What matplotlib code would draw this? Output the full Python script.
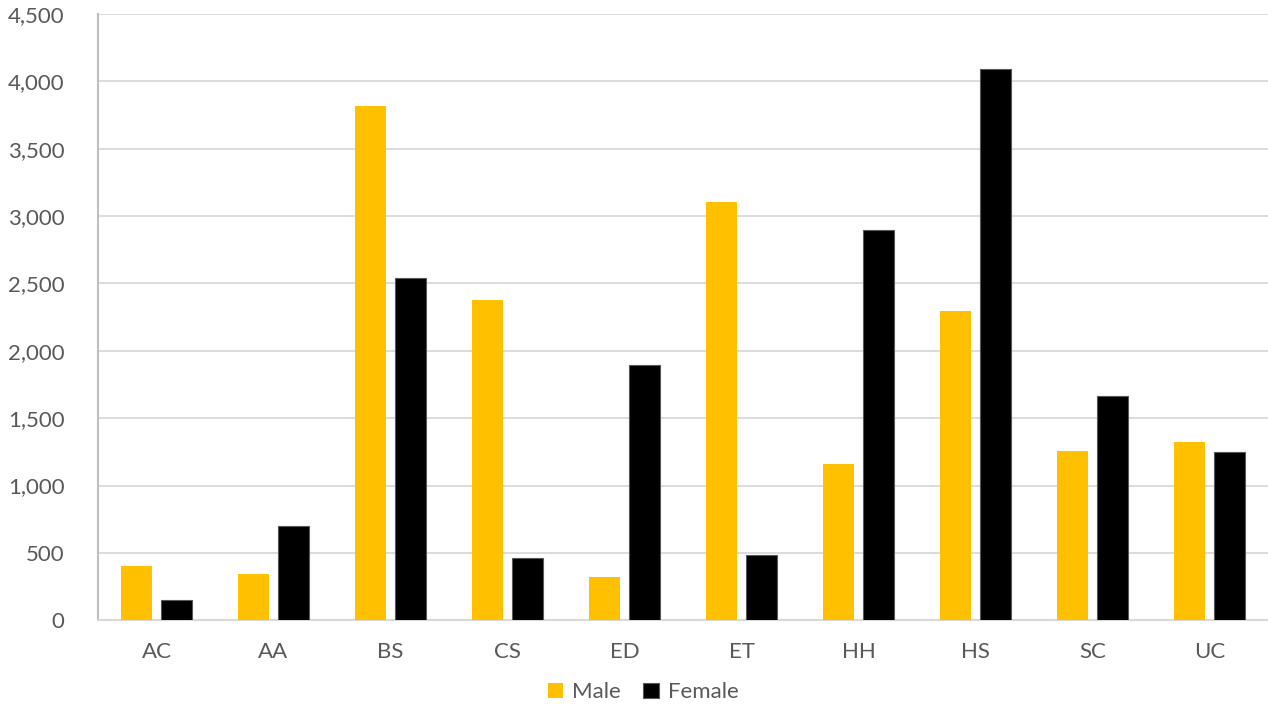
import numpy as np
import matplotlib
matplotlib.use("Agg")
from matplotlib import pyplot as plt
from matplotlib.ticker import FuncFormatter

categories = ["AC", "AA", "BS", "CS", "ED", "ET", "HH", "HS", "SC", "UC"]
male = [400, 342, 3817, 2376, 320, 3104, 1158, 2295, 1255, 1322]
female = [150, 700, 2540, 460, 1893, 483, 2896, 4091, 1663, 1247]

plt.rcParams['font.family'] = ['Lato', 'DejaVu Sans']
text_color = "#595959"

fig = plt.figure(figsize=(12.68, 7.04), dpi=100)
ax = fig.add_axes([0.0773, 0.119, 0.9227, 0.861])

x = np.arange(len(categories))
w = 0.265
off = 0.167
ax.bar(x - off, male, w, color="#FFC000", label="Male", zorder=3)
ax.bar(x + off, female, w, color="#000000", edgecolor="#595959", linewidth=0.8,
       label="Female", zorder=3)

ax.set_xlim(-0.5, len(categories) - 0.5)
ax.set_ylim(0, 4500)
ax.set_yticks(np.arange(0, 4501, 500))
ax.yaxis.set_major_formatter(FuncFormatter(lambda v, p: f"{int(v):,}"))
ax.set_xticks(x)
ax.set_xticklabels(categories)

ax.grid(axis="y", color="#D9D9D9", linewidth=1.3, zorder=0)
for s in ["top", "right"]:
    ax.spines[s].set_visible(False)
ax.spines["left"].set_color("#BFBFBF")
ax.spines["left"].set_linewidth(1.5)
ax.spines["bottom"].set_color("#D9D9D9")
ax.spines["bottom"].set_linewidth(1.5)
ax.tick_params(axis="both", length=0, labelsize=16, colors=text_color)
ax.tick_params(axis="x", pad=16)
ax.tick_params(axis="y", pad=24)

# legend sits centred on the figure, not the plot area
leg = ax.legend(loc="center", bbox_to_anchor=(0.466, -0.119), ncol=2, frameon=False,
                fontsize=16, handlelength=0.7, handleheight=0.7, columnspacing=1.0,
                handletextpad=0.4, borderpad=0)
for t in leg.get_texts():
    t.set_color(text_color)

fig.savefig("out.png", dpi=100)
